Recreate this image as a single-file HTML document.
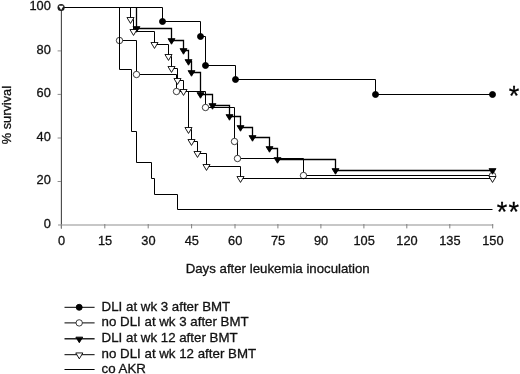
<!DOCTYPE html>
<html lang="en"><head><meta charset="utf-8"><title>Survival after leukemia inoculation</title>
<style>html,body{margin:0;padding:0;background:#fff}body{width:520px;height:374px;overflow:hidden}</style>
</head><body>
<svg role="img" aria-label="Survival curves after leukemia inoculation" width="520" height="374" viewBox="0 0 520 374" style="display:block" font-family="&quot;Liberation Sans&quot;, sans-serif" font-size="12.8" fill="#111">
<rect width="520" height="374" fill="#fff"/>
<path d="M61.4,7.2 V228.4" stroke="#454545" stroke-width="1.1" fill="none"/>
<path d="M58,225 H493.2" stroke="#909090" stroke-width="1.2" fill="none"/>
<g stroke="#8c8c8c" stroke-width="1" fill="none">
<path d="M57.6,50.9 H61"/>
<path d="M57.6,94.4 H61"/>
<path d="M57.6,138.0 H61"/>
<path d="M57.6,181.5 H61"/>
</g>
<g stroke="#808080" stroke-width="1" fill="none">
<path d="M61.4,224 V228.4"/>
<path d="M104.8,224 V228.4"/>
<path d="M148.2,224 V228.4"/>
<path d="M191.6,224 V228.4"/>
<path d="M235.0,224 V228.4"/>
<path d="M277.9,224 V228.4"/>
<path d="M320.9,224 V228.4"/>
<path d="M363.9,224 V228.4"/>
<path d="M406.8,224 V228.4"/>
<path d="M449.8,224 V228.4"/>
<path d="M492.7,224 V228.4"/>
</g>
<g fill="none" stroke="#000" stroke-width="1.0" stroke-linejoin="miter">
<path d="M61,7.5 H162.5 V21.5 H200.5 V36.5 H205.5 V65.5 H235.5 V79.5 H375.5 V94.5 H492.5 V94.5"/>
</g>
<circle cx="162.5" cy="21.5" r="3.0" fill="#000" stroke="#000" stroke-width="0.9"/>
<circle cx="200.5" cy="36.5" r="3.0" fill="#000" stroke="#000" stroke-width="0.9"/>
<circle cx="205.5" cy="65.5" r="3.0" fill="#000" stroke="#000" stroke-width="0.9"/>
<circle cx="235.5" cy="79.5" r="3.0" fill="#000" stroke="#000" stroke-width="0.9"/>
<circle cx="375.5" cy="94.5" r="3.0" fill="#000" stroke="#000" stroke-width="0.9"/>
<circle cx="492.5" cy="94.5" r="3.0" fill="#000" stroke="#000" stroke-width="0.9"/>
<path d="M119.5,7.5 H119.5 V40.5 H136.5 V74.5 H176.5 V91.5 H205.5 V107.5 H234.5 V141.5 H237.5 V158.5 H303.5 V175.5 H492.5 V175.5" fill="none" stroke="#000" stroke-width="1.0"/>
<circle cx="119.5" cy="40.5" r="3.2" fill="#fff" stroke="#1a1a1a" stroke-width="0.85"/>
<circle cx="136.5" cy="74.5" r="3.2" fill="#fff" stroke="#1a1a1a" stroke-width="0.85"/>
<circle cx="176.5" cy="91.5" r="3.2" fill="#fff" stroke="#1a1a1a" stroke-width="0.85"/>
<circle cx="205.5" cy="107.5" r="3.2" fill="#fff" stroke="#1a1a1a" stroke-width="0.85"/>
<circle cx="234.5" cy="141.5" r="3.2" fill="#fff" stroke="#1a1a1a" stroke-width="0.85"/>
<circle cx="237.5" cy="158.5" r="3.2" fill="#fff" stroke="#1a1a1a" stroke-width="0.85"/>
<circle cx="303.5" cy="175.5" r="3.2" fill="#fff" stroke="#1a1a1a" stroke-width="0.85"/>
<circle cx="492.5" cy="175.5" r="3.2" fill="#fff" stroke="#1a1a1a" stroke-width="0.85"/>
<path d="M136.5,7.5 H136.5 V28.5 H171.5 V40.5 H183.5 V50.5 H188.5 V61.5 H191.5 V72.5 H200.5 V94.5 H212.5 V105.5 H229.5 V116.5 H240.5 V127.5 H252.5 V137.5 H269.5 V148.5 H277.5 V159.5 H335.5 V170.5 H492.5 V170.5" fill="none" stroke="#000" stroke-width="1.3"/>
<path d="M133.05,26.63 H139.95 L136.50,32.23 Z" fill="#000" stroke="#000" stroke-width="0.9"/>
<path d="M168.05,38.63 H174.95 L171.50,44.23 Z" fill="#000" stroke="#000" stroke-width="0.9"/>
<path d="M180.05,48.63 H186.95 L183.50,54.23 Z" fill="#000" stroke="#000" stroke-width="0.9"/>
<path d="M185.05,59.63 H191.95 L188.50,65.23 Z" fill="#000" stroke="#000" stroke-width="0.9"/>
<path d="M188.05,70.63 H194.95 L191.50,76.23 Z" fill="#000" stroke="#000" stroke-width="0.9"/>
<path d="M197.05,92.63 H203.95 L200.50,98.23 Z" fill="#000" stroke="#000" stroke-width="0.9"/>
<path d="M209.05,103.63 H215.95 L212.50,109.23 Z" fill="#000" stroke="#000" stroke-width="0.9"/>
<path d="M226.05,114.63 H232.95 L229.50,120.23 Z" fill="#000" stroke="#000" stroke-width="0.9"/>
<path d="M237.05,125.63 H243.95 L240.50,131.23 Z" fill="#000" stroke="#000" stroke-width="0.9"/>
<path d="M249.05,135.63 H255.95 L252.50,141.23 Z" fill="#000" stroke="#000" stroke-width="0.9"/>
<path d="M266.05,146.63 H272.95 L269.50,152.23 Z" fill="#000" stroke="#000" stroke-width="0.9"/>
<path d="M274.05,157.63 H280.95 L277.50,163.23 Z" fill="#000" stroke="#000" stroke-width="0.9"/>
<path d="M332.05,168.63 H338.95 L335.50,174.23 Z" fill="#000" stroke="#000" stroke-width="0.9"/>
<path d="M489.05,168.63 H495.95 L492.50,174.23 Z" fill="#000" stroke="#000" stroke-width="0.9"/>
<path d="M130.5,7.5 H130.5 V19.5 H133.5 V31.5 H154.5 V44.5 H168.5 V56.5 H171.5 V68.5 H177.5 V80.5 H183.5 V91.5 H188.5 V129.5 H191.5 V141.5 H197.5 V153.5 H206.5 V166.5 H240.5 V178.5 H492.5 V178.5" fill="none" stroke="#000" stroke-width="1.0"/>
<path d="M126.95,17.53 H134.05 L130.50,23.43 Z" fill="#fff" stroke="#000" stroke-width="0.9"/>
<path d="M129.95,29.53 H137.05 L133.50,35.43 Z" fill="#fff" stroke="#000" stroke-width="0.9"/>
<path d="M150.95,42.53 H158.05 L154.50,48.43 Z" fill="#fff" stroke="#000" stroke-width="0.9"/>
<path d="M164.95,54.53 H172.05 L168.50,60.43 Z" fill="#fff" stroke="#000" stroke-width="0.9"/>
<path d="M167.95,66.53 H175.05 L171.50,72.43 Z" fill="#fff" stroke="#000" stroke-width="0.9"/>
<path d="M173.95,78.53 H181.05 L177.50,84.43 Z" fill="#fff" stroke="#000" stroke-width="0.9"/>
<path d="M179.95,89.53 H187.05 L183.50,95.43 Z" fill="#fff" stroke="#000" stroke-width="0.9"/>
<path d="M184.95,127.53 H192.05 L188.50,133.43 Z" fill="#fff" stroke="#000" stroke-width="0.9"/>
<path d="M187.95,139.53 H195.05 L191.50,145.43 Z" fill="#fff" stroke="#000" stroke-width="0.9"/>
<path d="M193.95,151.53 H201.05 L197.50,157.43 Z" fill="#fff" stroke="#000" stroke-width="0.9"/>
<path d="M202.95,164.53 H210.05 L206.50,170.43 Z" fill="#fff" stroke="#000" stroke-width="0.9"/>
<path d="M236.95,176.53 H244.05 L240.50,182.43 Z" fill="#fff" stroke="#000" stroke-width="0.9"/>
<path d="M488.95,176.53 H496.05 L492.50,182.43 Z" fill="#fff" stroke="#000" stroke-width="0.9"/>
<path d="M119.5,7.5 H119.5 V69.5 H131.5 V131.5 H136.5 V162.5 H151.5 V178.5 H154.5 V194.5 H177.5 V209.5 H492.5 V209.5" fill="none" stroke="#000" stroke-width="1.0"/>
<circle cx="61.1" cy="7.5" r="3.6" fill="#1c1c1c"/><path d="M58.6,5.7 H63.6 L61.1,10.0 Z" fill="#fff"/>
<g opacity="0.999" stroke="#111" stroke-width="0.3">
<text x="50.8" y="10.3" text-anchor="end">100</text>
<text x="50.8" y="53.8" text-anchor="end">80</text>
<text x="50.8" y="97.3" text-anchor="end">60</text>
<text x="50.8" y="140.9" text-anchor="end">40</text>
<text x="50.8" y="184.4" text-anchor="end">20</text>
<text x="50.8" y="227.9" text-anchor="end">0</text>
<text x="61.6" y="244.7" text-anchor="middle">0</text>
<text x="105.0" y="244.7" text-anchor="middle">15</text>
<text x="148.4" y="244.7" text-anchor="middle">30</text>
<text x="191.8" y="244.7" text-anchor="middle">45</text>
<text x="235.2" y="244.7" text-anchor="middle">60</text>
<text x="278.1" y="244.7" text-anchor="middle">75</text>
<text x="321.1" y="244.7" text-anchor="middle">90</text>
<text x="364.1" y="244.7" text-anchor="middle">105</text>
<text x="407.0" y="244.7" text-anchor="middle">120</text>
<text x="449.9" y="244.7" text-anchor="middle">135</text>
<text x="492.9" y="244.7" text-anchor="middle">150</text>
<text transform="translate(277.7,273) scale(1.036,1)" text-anchor="middle">Days after leukemia inoculation</text>
<text transform="translate(10.6,115.1) rotate(-90) scale(1.0,1)" text-anchor="middle">% survival</text>
<text x="513.9" y="104.6" font-size="27" text-anchor="middle" fill="#000" stroke="#000" stroke-width="0.3" stroke-linejoin="round">*</text>
<text x="502" y="221.2" font-size="27" text-anchor="middle" fill="#000" stroke="#000" stroke-width="0.3" stroke-linejoin="round">*</text><text x="513.8" y="221.2" font-size="27" text-anchor="middle" fill="#000" stroke="#000" stroke-width="0.3" stroke-linejoin="round">*</text>
<path d="M64.5,307.3 H94.6" stroke="#000" stroke-width="1.0" fill="none"/>
<circle cx="79.2" cy="307.3" r="3.0" fill="#000" stroke="#000" stroke-width="0.9"/>
<text transform="translate(101.6,310.5) scale(1.04,1)">DLI at wk 3 after BMT</text>
<path d="M64.5,322.9 H94.6" stroke="#000" stroke-width="1.0" fill="none"/>
<circle cx="79.2" cy="322.9" r="3.2" fill="#fff" stroke="#1a1a1a" stroke-width="0.85"/>
<text transform="translate(101.6,326.1) scale(1.04,1)">no DLI at wk 3 after BMT</text>
<path d="M64.5,338.8 H94.6" stroke="#000" stroke-width="1.3" fill="none"/>
<path d="M75.85,337.13 H82.75 L79.30,342.73 Z" fill="#000" stroke="#000" stroke-width="0.9"/>
<text transform="translate(101.6,342.0) scale(1.04,1)">DLI at wk 12 after BMT</text>
<path d="M64.5,354.7 H94.6" stroke="#000" stroke-width="1.0" fill="none"/>
<path d="M75.75,352.93 H82.85 L79.30,358.83 Z" fill="#fff" stroke="#000" stroke-width="0.9"/>
<text transform="translate(101.6,357.9) scale(1.04,1)">no DLI at wk 12 after BMT</text>
<path d="M64.5,369.5 H94.6" stroke="#000" stroke-width="1.0" fill="none"/>
<text transform="translate(101.6,372.7) scale(1.04,1)">co AKR</text>
</g>
</svg>
</body></html>
